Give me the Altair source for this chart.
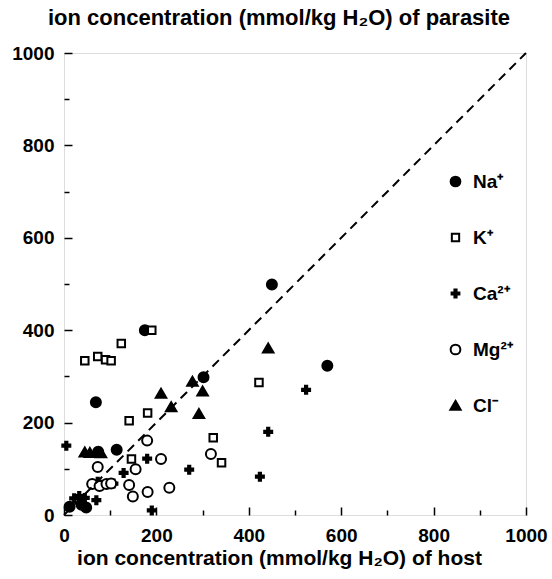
import altair as alt
import pandas as pd

# ---- data ----
ions = ["Na⁺", "K⁺", "Ca²⁺", "Mg²⁺", "Cl⁻"]

na_host = [175, 302, 69, 450, 570, 74, 114, 12, 38, 48]
na_para = [400, 298, 244, 499, 323, 137, 141, 18, 22, 16]

k_host = [190, 45, 73, 90, 102, 124, 422, 141, 181, 323, 341, 146]
k_para = [400, 334, 343, 336, 334, 371, 287, 204, 221, 167, 113, 121]

ca_host = [5, 129, 180, 271, 73, 107, 190, 22, 33, 45, 70, 524, 442, 424]
ca_para = [150, 91, 122, 98, 72, 68, 10, 36, 41, 37, 32, 271, 180, 83]

mg_host = [318, 180, 210, 155, 73, 61, 77, 92, 102, 141, 149, 181, 228]
mg_para = [132, 161, 121, 99, 104, 67, 63, 67, 68, 65, 40, 50, 59]

cl_host = [210, 278, 300, 232, 292, 442, 45, 56, 80, 40]
cl_para = [263, 289, 268, 234, 219, 361, 136, 135, 134, 30]

diag_vals = [0, 1000]
major_ticks = [0, 200, 400, 600, 800, 1000]
minor_ticks = [100, 300, 500, 700, 900]

shape_range = [
    "circle",
    "M-0.75,-0.75L0.75,-0.75L0.75,0.75L-0.75,0.75Z",
    "M-0.8,-0.22L-0.22,-0.22L-0.22,-0.8L0.22,-0.8L0.22,-0.22L0.8,-0.22"
    "L0.8,0.22L0.22,0.22L0.22,0.8L-0.22,0.8L-0.22,0.22L-0.8,0.22Z",
    "circle",
    "M0,-0.95L1.05,0.85L-1.05,0.85Z",
]
fill_range = ["black", "white", "black", "white", "black"]
stroke_range = ["black", "black", "black", "black", "black"]

rows = []
for name, hs, ps in zip(ions, [na_host, k_host, ca_host, mg_host, cl_host],
                        [na_para, k_para, ca_para, mg_para, cl_para]):
    for h, p in zip(hs, ps):
        rows.append({"ion": name, "host": h, "parasite": p})
df = pd.DataFrame(rows)
diag_df = pd.DataFrame({"x": diag_vals, "y": diag_vals})

W = H = 462
FONT = "Liberation Sans"
sx = alt.Scale(domain=[0, 1000], nice=False, zero=True)
sy = alt.Scale(domain=[0, 1000], nice=False, zero=True)

legend = alt.Legend(
    title=None, orient="none", legendX=382, legendY=119, direction="vertical",
    rowPadding=36, labelFontSize=19, labelFontWeight="bold", labelFont=FONT,
    labelColor="black", symbolSize=95, symbolStrokeWidth=2, labelOffset=8,
    symbolOpacity=1, padding=0,
)

points = alt.Chart(df).mark_point(
    filled=True, opacity=1, strokeWidth=2, size=100
).encode(
    x=alt.X("host:Q", scale=sx, axis=alt.Axis(
        values=major_ticks, format="d", ticks=False, domain=False, grid=False,
        labelFontSize=19, labelFontWeight="bold", labelFont=FONT, labelColor="black",
        labelPadding=11, labelFlush=False,
        title="ion concentration (mmol/kg H₂O) of host", titleFontSize=21,
        titleFontWeight="bold", titleFont=FONT, titleColor="black", titlePadding=2,
        titleX=215, titleAnchor="middle")),
    y=alt.Y("parasite:Q", scale=sy, axis=alt.Axis(
        values=major_ticks, format="d", ticks=False, domain=False, grid=False,
        labelFontSize=19, labelFontWeight="bold", labelFont=FONT, labelColor="black",
        labelPadding=10, labelFlush=False, title=None)),
    shape=alt.Shape("ion:N", scale=alt.Scale(domain=ions, range=shape_range), legend=legend),
    fill=alt.Fill("ion:N", scale=alt.Scale(domain=ions, range=fill_range), legend=legend),
    stroke=alt.Stroke("ion:N", scale=alt.Scale(domain=ions, range=stroke_range), legend=legend),
)

diag = alt.Chart(diag_df).mark_line(color="black", strokeDash=[9, 6], strokeWidth=2).encode(
    x=alt.X("x:Q", scale=sx, axis=alt.Axis(
        orient="top", offset=-H, values=major_ticks, labels=False, domain=False,
        grid=False, tickSize=8, tickWidth=1.5, tickColor="black", title=None)),
    y=alt.Y("y:Q", scale=sy, axis=alt.Axis(
        orient="right", offset=-W, values=major_ticks, labels=False, domain=False,
        grid=False, tickSize=8, tickWidth=1.5, tickColor="black", title=None)),
)

minor = alt.Chart(diag_df).mark_line(opacity=0).encode(
    x=alt.X("x:Q", scale=sx, axis=alt.Axis(
        orient="top", offset=-H, values=minor_ticks, labels=False, domain=False,
        grid=False, tickSize=5, tickWidth=1.5, tickColor="black", title=None)),
    y=alt.Y("y:Q", scale=sy, axis=alt.Axis(
        orient="right", offset=-W, values=minor_ticks, labels=False, domain=False,
        grid=False, tickSize=5, tickWidth=1.5, tickColor="black", title=None)),
)

chart = alt.layer(points, diag, minor).resolve_axis(x="independent", y="independent").properties(
    width=W, height=H,
    title=alt.TitleParams("ion concentration (mmol/kg H₂O) of parasite", fontSize=22,
                          fontWeight="bold", font=FONT, color="black",
                          anchor="middle", dx=-16, offset=14),
    autosize=alt.AutoSizeParams(type="none"),
    padding={"left": 64, "top": 53, "right": 26, "bottom": 64},
).configure_view(stroke="#222", strokeWidth=2).configure(background="white")

chart.save("out.html", embed_options={"renderer": "svg", "actions": False})
